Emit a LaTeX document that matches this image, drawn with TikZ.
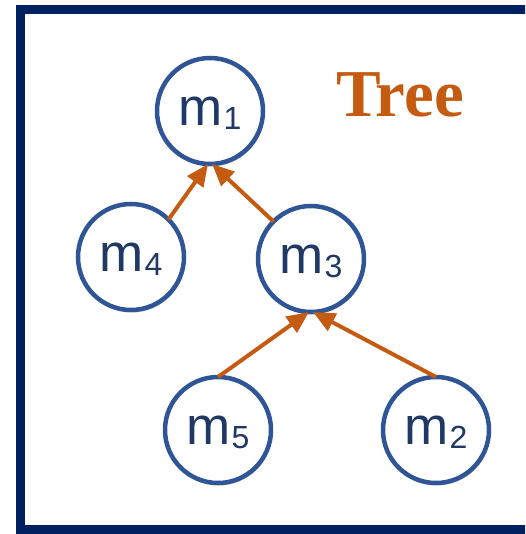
\documentclass[tikz,border=0pt]{standalone}
\usepackage{fontspec}
\setmainfont{Liberation Sans}
\newfontfamily\treefont{Liberation Serif}
\usetikzlibrary{arrows.meta,shadows}
\definecolor{framenavy}{HTML}{002060}
\definecolor{circblue}{HTML}{2F5597}
\definecolor{textnavy}{HTML}{1F3864}
\definecolor{arrorange}{HTML}{C55A11}
\tikzset{
  msgnode/.style={circle, draw=circblue, line width=4.5pt, fill=white,
    minimum size=106pt, inner sep=0pt, outer sep=0pt, text=textnavy,
    text depth=0pt,
    drop shadow={shadow xshift=1pt, shadow yshift=-2.5pt, opacity=0.25, fill=black}},
  arr/.style={draw=arrorange, line width=4pt,
    -{Triangle[length=22pt,width=19pt]}},
}
\newcommand{\mlabel}[1]{{\fontsize{53}{53}\selectfont m\kern1pt\raisebox{-4pt}{\fontsize{32}{32}\selectfont #1}}}
\begin{document}
\begin{tikzpicture}[x=1pt,y=-1pt]
\useasboundingbox (0,0) rectangle (525,534);
\clip (0,0) rectangle (525,534);
\draw[framenavy, line width=9pt] (20.5,9.5) rectangle (545,529.5);
\node[msgnode] (m1) at (210,111) {\mlabel{1}};
\node[msgnode] (m4) at (131,257) {\mlabel{4}};
\node[msgnode] (m3) at (311,259) {\mlabel{3}};
\node[msgnode] (m5) at (218,430) {\mlabel{5}};
\node[msgnode] (m2) at (436,430) {\mlabel{2}};
\node[anchor=base west, inner sep=0pt, text=arrorange] (title) at (336,117)
  {\treefont\bfseries\fontsize{67}{67}\selectfont Tree};
\draw[arr] (m4.45) -- ([xshift=-2pt]m1.south);
\draw[arr] (m3.135) -- ([xshift=2pt]m1.south);
\draw[arr] (m5.north) -- ([xshift=-2pt]m3.south);
\draw[arr] (m2.north) -- ([xshift=2pt]m3.south);
\end{tikzpicture}
\end{document}
